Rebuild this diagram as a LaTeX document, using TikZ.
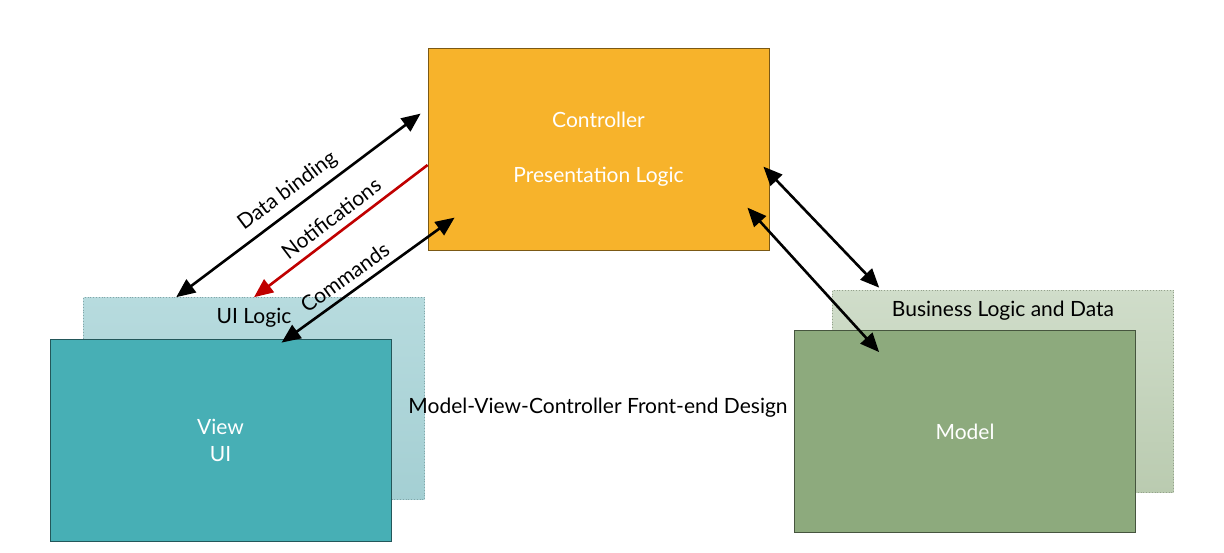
\documentclass[tikz,border=0pt]{standalone}
\usepackage{fontspec}
\setmainfont{Lato}
\usetikzlibrary{arrows.meta, positioning, calc}
\definecolor{ctrlorange}{RGB}{247,179,43}
\definecolor{viewteal}{RGB}{71,175,181}
\definecolor{uilight}{RGB}{183,219,222}
\definecolor{uilightdark}{RGB}{164,207,211}
\definecolor{modelgreen}{RGB}{141,170,125}
\definecolor{bizlight}{RGB}{208,221,202}
\definecolor{bizlightdark}{RGB}{186,203,176}
\definecolor{notered}{RGB}{192,0,0}

\begin{document}
\begin{tikzpicture}[
    x=1pt, y=-1pt,
    every node/.style={font=\fontsize{21}{27}\selectfont},
    box/.style={rectangle, minimum width=341pt, minimum height=202pt, inner sep=0pt, text=white, align=center, line width=0.8pt},
    backbox/.style={box, text=black, dotted, line width=0.6pt},
    link/.style={line width=2.6pt, {Triangle[length=19pt,width=16pt]}-{Triangle[length=19pt,width=16pt]}},
    lbl/.style={midway, sloped, above, inner sep=7pt}
]
\useasboundingbox (0,0) rectangle (1224,552);

\node[box, fill=ctrlorange, draw=ctrlorange!50!black] (ctrl) at (598.5,149) {Controller\\[28pt]Presentation Logic};

\node[backbox, top color=uilight, bottom color=uilightdark, draw=uilightdark!80!black] (uilogic) at (254,398.5) {};
\node[below=11pt of uilogic.north, inner sep=0pt] (uilogictxt) {UI Logic};
\node[box, fill=viewteal, draw=viewteal!50!black] (view) at (220.5,440) {View\\UI};

\node[backbox, top color=bizlight, bottom color=bizlightdark, draw=bizlightdark!80!black] (bizlogic) at (1003,391) {};
\node[below=11pt of bizlogic.north, inner sep=0pt] (bizlogictxt) {Business Logic and Data};
\node[box, fill=modelgreen, draw=modelgreen!50!black] (model) at (965,431.5) {Model};

\node (caption) at (598,408) {Model-View-Controller Front-end Design};

\coordinate (db-ui) at ($(uilogic.north west)+(93,0)$);
\coordinate (db-ctrl) at ($(ctrl.north west)+(-7,66)$);
\coordinate (nt-ctrl) at ($(ctrl.west)+(0,16)$);
\coordinate (cm-view) at ($(view.north west)+(232,4)$);
\coordinate (cm-ctrl) at ($(ctrl.north west)+(27,170)$);
\coordinate (bz-ctrl) at ($(ctrl.north east)+(-6,119)$);
\coordinate (bz-biz) at ($(bizlogic.north west)+(47,-2)$);
\coordinate (md-ctrl) at ($(ctrl.north east)+(-22,160)$);
\coordinate (md-model) at ($(model.north west)+(85,22)$);

\draw[link] (db-ui) -- node[lbl] {Data binding} (db-ctrl);
\draw[link, notered, {Triangle[length=19pt,width=16pt]}-] (uilogic.north) -- node[lbl, text=black] {Notifications} (nt-ctrl);
\draw[link] (cm-view) -- node[lbl, pos=0.42] {Commands} (cm-ctrl);
\draw[link] (bz-ctrl) -- (bz-biz);
\draw[link] (md-ctrl) -- (md-model);
\end{tikzpicture}
\end{document}
